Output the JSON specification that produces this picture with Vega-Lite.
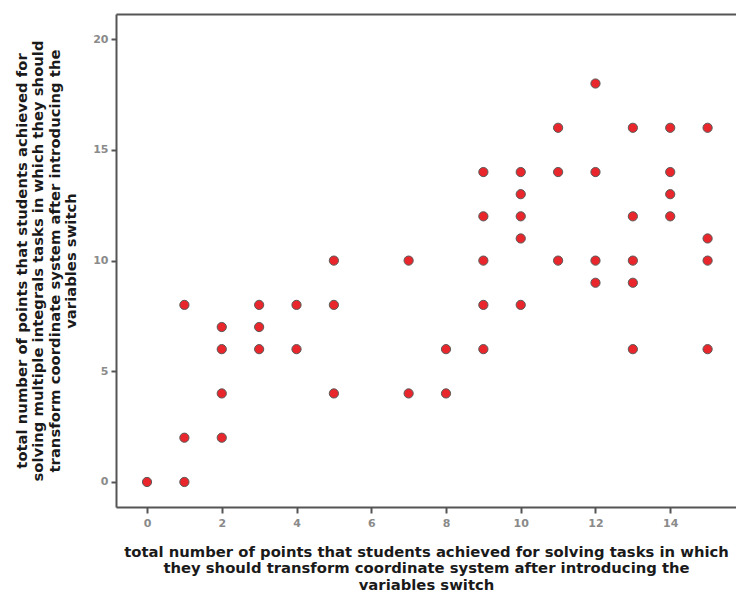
{
  "$schema": "https://vega.github.io/schema/vega-lite/v6.json",
  "autosize": "none",
  "width": 620,
  "height": 493,
  "padding": {"left": 116, "top": 14, "right": 0, "bottom": 86},
  "background": "white",
  "config": {
    "view": {"stroke": null},
    "axis": {"grid": false, "domainColor": "#555555", "domainWidth": 2, "tickColor": "#555555", "tickWidth": 2, "tickSize": 6,
      "labelColor": "#8a8a8a", "labelFont": "DejaVu Sans", "labelFontSize": 11, "labelFontWeight": "bold",
      "titleFont": "DejaVu Sans", "titleFontSize": 14.8, "titleFontWeight": "bold", "titleColor": "#1a1a1a", "titleLineHeight": 16.5}
  },
  "data": {"values": [
    {"x": 0, "y": 0},
    {"x": 1, "y": 8}, {"x": 1, "y": 2}, {"x": 1, "y": 0},
    {"x": 2, "y": 7}, {"x": 2, "y": 6}, {"x": 2, "y": 4}, {"x": 2, "y": 2},
    {"x": 3, "y": 8}, {"x": 3, "y": 7}, {"x": 3, "y": 6},
    {"x": 4, "y": 8}, {"x": 4, "y": 6},
    {"x": 5, "y": 10}, {"x": 5, "y": 8}, {"x": 5, "y": 4},
    {"x": 7, "y": 10}, {"x": 7, "y": 4},
    {"x": 8, "y": 6}, {"x": 8, "y": 4},
    {"x": 9, "y": 14}, {"x": 9, "y": 12}, {"x": 9, "y": 10}, {"x": 9, "y": 8}, {"x": 9, "y": 6},
    {"x": 10, "y": 14}, {"x": 10, "y": 13}, {"x": 10, "y": 12}, {"x": 10, "y": 11}, {"x": 10, "y": 8},
    {"x": 11, "y": 16}, {"x": 11, "y": 14}, {"x": 11, "y": 10},
    {"x": 12, "y": 18}, {"x": 12, "y": 14}, {"x": 12, "y": 10}, {"x": 12, "y": 9},
    {"x": 13, "y": 16}, {"x": 13, "y": 12}, {"x": 13, "y": 10}, {"x": 13, "y": 9}, {"x": 13, "y": 6},
    {"x": 14, "y": 16}, {"x": 14, "y": 14}, {"x": 14, "y": 13}, {"x": 14, "y": 12},
    {"x": 15, "y": 16}, {"x": 15, "y": 11}, {"x": 15, "y": 10}, {"x": 15, "y": 6}
  ]},
  "layer": [
    {
      "mark": {"type": "point", "filled": true, "shape": "circle", "size": 85, "fill": "#e8262b", "stroke": "#5a5a5a", "strokeWidth": 1, "opacity": 1},
      "encoding": {
        "x": {"field": "x", "type": "quantitative",
          "scale": {"domain": [-0.83, 15.76], "nice": false, "zero": false},
          "axis": {"values": [0, 2, 4, 6, 8, 10, 12, 14], "labelPadding": 4, "titlePadding": 16,
            "title": ["total number of points that students achieved for solving tasks in which", "they should transform coordinate system after introducing the", "variables switch"]}},
        "y": {"field": "y", "type": "quantitative",
          "scale": {"domain": [-1.13, 21.14], "nice": false, "zero": false},
          "axis": {"values": [0, 5, 10, 15, 20], "tickSize": 5, "labelPadding": 3, "titlePadding": 14,
            "title": ["total number of points that students achieved for", "solving multiple integrals tasks in which they should", "transform coordinate system after introducing the", "variables switch"]}}
      }
    },
    {
      "mark": {"type": "point", "opacity": 0},
      "encoding": {
        "x": {"field": "x", "type": "quantitative",
          "axis": {"orient": "top", "labels": false, "ticks": false, "title": null, "domainWidth": 2}}
      }
    }
  ],
  "resolve": {"axis": {"x": "independent"}}
}
